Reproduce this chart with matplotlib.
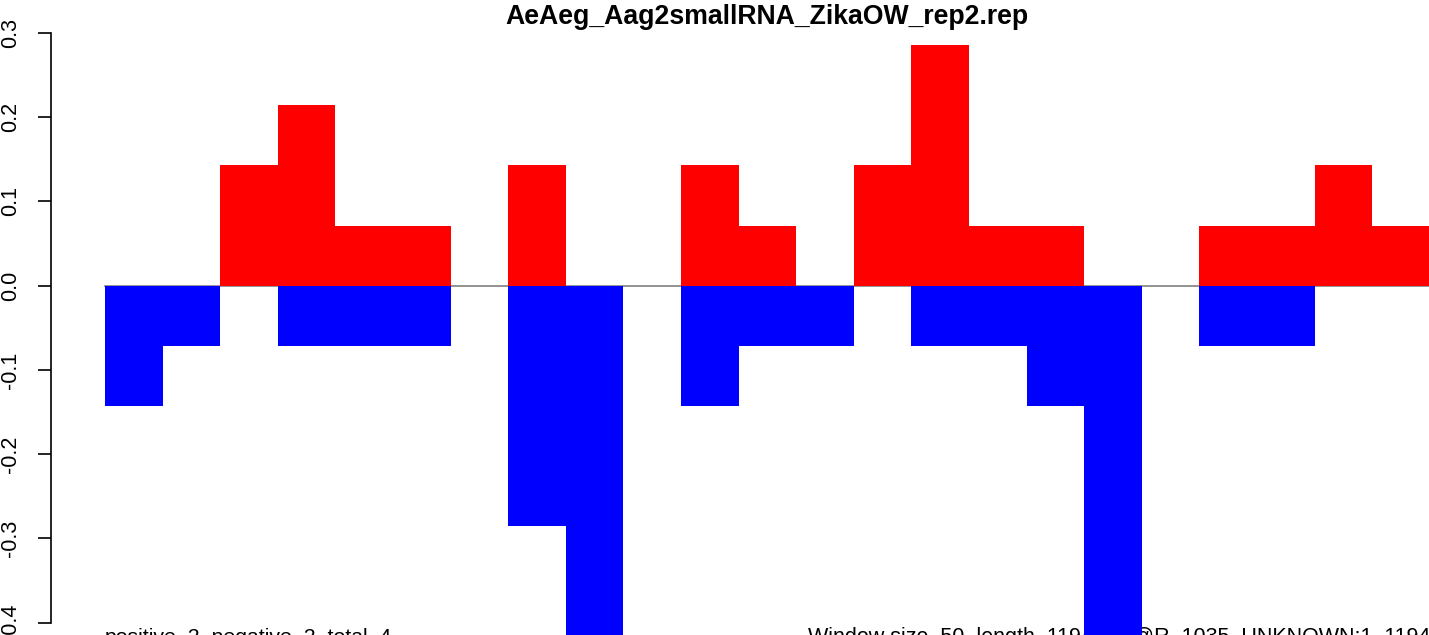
import numpy as np
import matplotlib.pyplot as plt

plt.rcParams['font.family'] = ['Liberation Sans', 'DejaVu Sans']

title = "AeAeg_Aag2smallRNA_ZikaOW_rep2.rep"
left_note = "positive_2_negative_2_total_4"
right_note = "Window size_50_length_1194_TE@R_1035_UNKNOWN:1_1194"

u = 1 / 14
positive = np.array([0, 0, 2, 3, 1, 1, 0, 2, 0, 0, 2, 1, 0, 2, 4, 1, 1, 0, 0, 1, 1, 2, 1]) * u
negative = -np.array([2, 1, 0, 1, 1, 1, 0, 4, 6, 0, 2, 1, 1, 0, 1, 1, 2, 6, 0, 1, 1, 0, 0]) * u
yticks = [-0.4, -0.3, -0.2, -0.1, 0.0, 0.1, 0.2, 0.3]

fig = plt.figure(figsize=(14.29, 6.35), dpi=100)
ax = fig.add_axes([0, 0, 1, 1])

# pixel layout of the original: bars start at x=105, 57.6 px each
bw = 57.6
x0 = 105
ax.set_xlim(-x0 / bw, 1324 / bw)
ppu = 842.3  # pixels per 1.0 in y
ax.set_ylim(-0.4 - (635 - 622.7) / ppu, 0.3 + 33 / ppu)

def py(p):
    # pixel row -> data y
    return 0.3 - (p - 33) / ppu

x = np.arange(len(positive))
ax.text(0, py(643), left_note, fontsize=15.3, va='baseline', ha='left', zorder=1)
ax.text((808 - x0) / bw, py(643), right_note, fontsize=15.5, va='baseline', ha='left', zorder=1)

ax.bar(x, positive, width=1, align='edge', color='red', zorder=3)
ax.bar(x, negative, width=1, align='edge', color='blue', zorder=3)
ax.plot([0, len(x)], [0, 0], color='gray', lw=1.2, zorder=2)

ax.text(len(x) / 2, py(24), title, fontsize=19.2, fontweight='bold', ha='center', va='baseline')

for s in ['top', 'right', 'bottom']:
    ax.spines[s].set_visible(False)
ax.spines['left'].set_position(('data', (51 - x0) / bw))
ax.spines['left'].set_bounds(-0.4, 0.3)
ax.spines['left'].set_linewidth(1.2)
ax.set_xticks([])
ax.set_yticks(yticks)
ax.set_yticklabels([f"{v:.1f}" for v in yticks])
ax.tick_params(axis='y', length=9.4, width=1.2, pad=12, labelsize=15.5, labelrotation=90)
for lab in ax.get_yticklabels():
    lab.set_va('center')

fig.savefig('out.png', dpi=100)
